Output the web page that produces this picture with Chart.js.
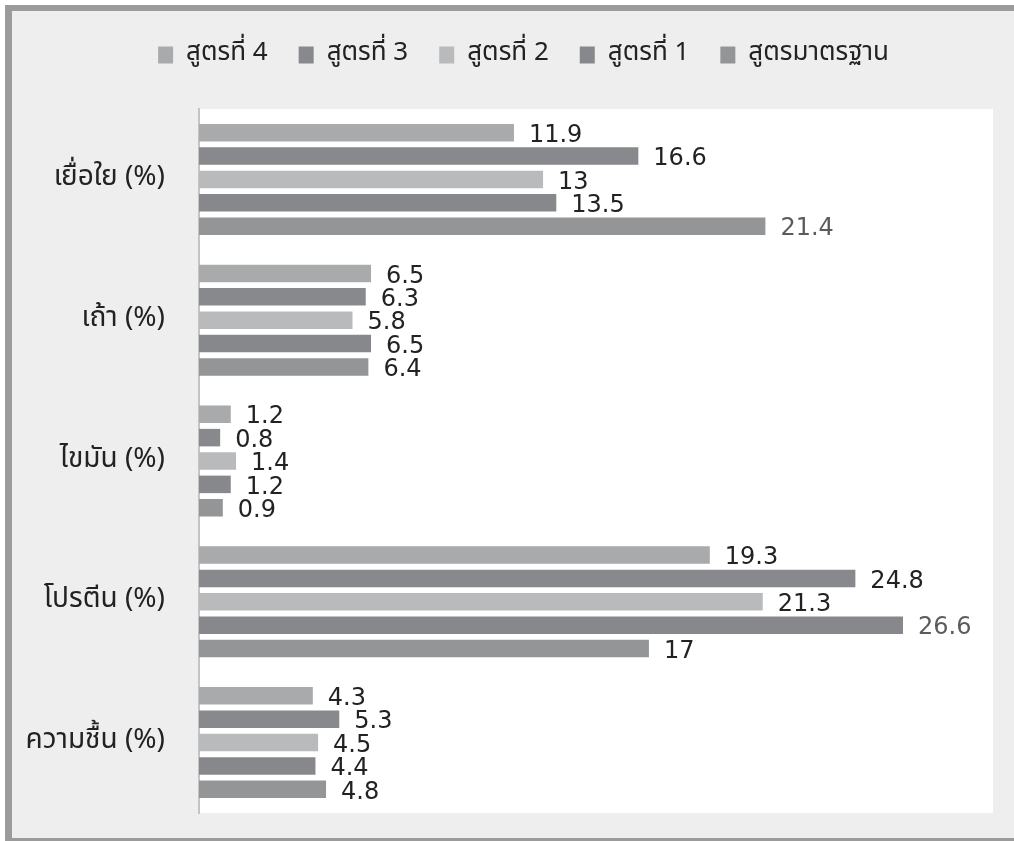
<!DOCTYPE html>
<html>
<head>
<meta charset="utf-8">
<script src="https://cdn.jsdelivr.net/npm/chart.js@4/dist/chart.umd.min.js"></script>
<style>
  html, body { margin: 0; padding: 0; background: #fff; }
  #frame {
    position: absolute; left: 5px; top: 5px; width: 1009px; height: 836px;
    box-sizing: border-box; background: #eeeeee;
    border-left: 7px solid #9b9b9b; border-top: 6px solid #9b9b9b; border-bottom: 3px solid #9b9b9b;
  }
  #c { position: absolute; left: 0; top: 0; }
</style>
</head>
<body>
<div id="frame"></div>
<canvas id="c" width="1014" height="841"></canvas>
<script>
const categories = ["เยื่อใย (%)", "เถ้า (%)", "ไขมัน (%)", "โปรตีน (%)", "ความชื้น (%)"];
const seriesNames = ["สูตรที่ 4", "สูตรที่ 3", "สูตรที่ 2", "สูตรที่ 1", "สูตรมาตรฐาน"];
const formula4 = [11.9, 6.5, 1.2, 19.3, 4.3];
const formula3 = [16.6, 6.3, 0.8, 24.8, 5.3];
const formula2 = [13, 5.8, 1.4, 21.3, 4.5];
const formula1 = [13.5, 6.5, 1.2, 26.6, 4.4];
const standard = [21.4, 6.4, 0.9, 17, 4.8];

const colors = ["#a9aaac", "#88898c", "#b9babc", "#87888b", "#949597"];
const FONT = "'Noto Sans Thai', 'Noto Sans', 'DejaVu Sans', sans-serif";

// white plot area
const plotBg = {
  id: "plotBg",
  beforeDraw(chart){
    const {ctx, chartArea:a} = chart;
    ctx.save();
    ctx.fillStyle = "#ffffff";
    ctx.fillRect(a.left, a.top, a.right - a.left, a.bottom - a.top);
    ctx.restore();
  }
};

// numbers at the end of each bar
const valueLabels = {
  id: "valueLabels",
  afterDatasetsDraw(chart){
    const ctx = chart.ctx;
    ctx.save();
    ctx.font = "24px 'DejaVu Sans', sans-serif";
    ctx.textAlign = "left";
    ctx.textBaseline = "middle";
    chart.data.datasets.forEach((ds, di) => {
      chart.getDatasetMeta(di).data.forEach((bar, i) => {
        const v = ds.data[i];
        // the two longest labels print lighter in the original
        ctx.fillStyle = (v === 21.4 || v === 26.6) ? "#5c5c5c" : "#222222";
        ctx.fillText(String(v), bar.x + 15, bar.y + 3);
      });
    });
    ctx.restore();
  }
};

// extra room under the legend, and nudge it right like the original
const legendSpace = {
  id: "legendSpace",
  beforeInit(chart){
    const fit = chart.legend.fit;
    chart.legend.fit = function(){ fit.call(this); this.height += 31; };
  },
  afterLayout(chart){
    chart.legend.left += 27;
    chart.legend.right += 27;
  }
};

new Chart(document.getElementById("c"), {
  type: "bar",
  data: {
    labels: categories,
    datasets: [formula4, formula3, formula2, formula1, standard].map((d, i) => ({
      label: seriesNames[i],
      data: d,
      backgroundColor: colors[i],
      borderWidth: 0,
      categoryPercentage: 0.83,
      barPercentage: 0.75
    }))
  },
  options: {
    indexAxis: "y",
    responsive: false,
    animation: false,
    layout: { padding: { top: 11, right: 21, bottom: 28, left: 0 } },
    plugins: {
      legend: {
        position: "top",
        labels: {
          color: "#222222",
          font: { family: FONT, size: 26 },
          boxWidth: 15, boxHeight: 17,
          padding: 31
        }
      },
      tooltip: { enabled: false }
    },
    scales: {
      x: { display: false, min: 0, max: 30 },
      y: {
        afterFit(scale){
          scale.width = 199;
          scale.paddingTop = 0;
          scale.paddingBottom = 0;
        },
        grid: { display: false, drawTicks: false },
        border: { display: true, color: "#c4c4c4", width: 2 },
        ticks: { color: "#222222", font: { family: FONT, size: 28 }, padding: 34 }
      }
    }
  },
  plugins: [plotBg, valueLabels, legendSpace]
});
</script>
</body>
</html>
